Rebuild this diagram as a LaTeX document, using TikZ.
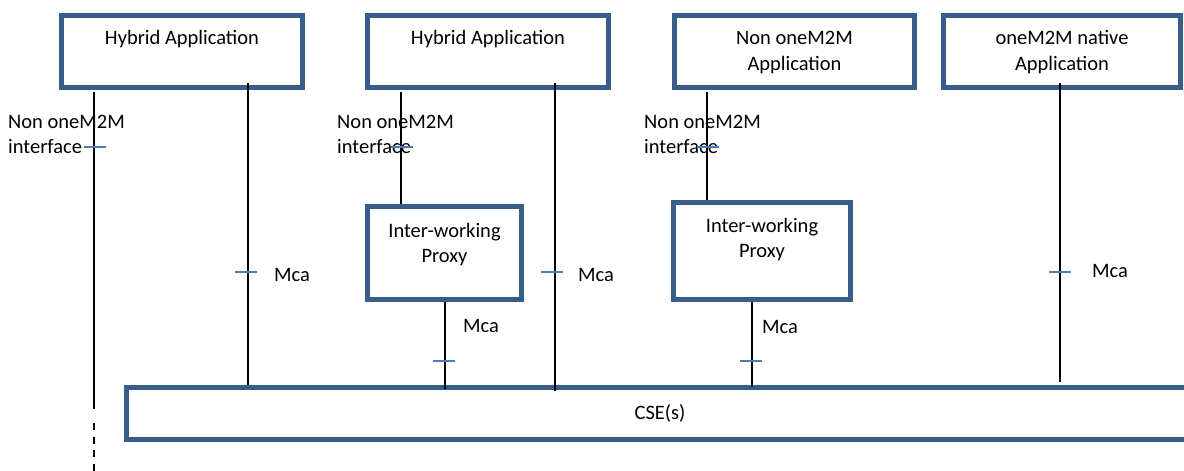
\documentclass[tikz,border=0pt]{standalone}
\usepackage{fontspec}
\setmainfont{Carlito}
\definecolor{boxblue}{HTML}{385D8A}
\definecolor{tickblue}{HTML}{4A7EBB}
\begin{document}
\begin{tikzpicture}[x=1pt,y=-1pt,
  box/.style={draw=boxblue, line width=4.5pt, fill=white, inner sep=0pt, rectangle},
  txt/.style={inner sep=0pt, font=\fontsize{20.5}{25}\selectfont},
  conn/.style={line width=2pt, black},
  tickmark/.style={line width=1.8pt, tickblue}]
\useasboundingbox (0,0) rectangle (1184,471);
% boxes
\node[box, minimum width=241pt, minimum height=72pt] (app1) at (182,51.5) {};
\node[box, minimum width=241pt, minimum height=72pt] (app2) at (488,51.5) {};
\node[box, minimum width=240pt, minimum height=72pt] (app3) at (794.5,51.5) {};
\node[box, minimum width=237pt, minimum height=72pt] (app4) at (1062,51.5) {};
\node[box, minimum width=154pt, minimum height=93pt] (prox1) at (444.5,253) {};
\node[box, minimum width=177pt, minimum height=97pt] (prox2) at (762,251) {};
\node[box, minimum width=1140pt, minimum height=52pt] (cse) at (696.5,413.5) {};
% box texts
\node[txt, anchor=base] (tapp1) at (182,44) {Hybrid Application};
\node[txt, anchor=base] (tapp2) at (488,44) {Hybrid Application};
\node[txt, anchor=base] (tapp3) at (794.5,45) {\begin{tabular}[t]{@{}c@{}}Non oneM2M\\Application\end{tabular}};
\node[txt, anchor=base] (tapp4) at (1062,45) {\begin{tabular}[t]{@{}c@{}}oneM2M native\\Application\end{tabular}};
\node[txt, anchor=base] (tprox1) at (444.5,237) {\begin{tabular}[t]{@{}c@{}}Inter-working\\Proxy\end{tabular}};
\node[txt, anchor=base] (tprox2) at (762,232) {\begin{tabular}[t]{@{}c@{}}Inter-working\\Proxy\end{tabular}};
\node[txt, anchor=base] (tcse) at (660,419) {CSE(s)};
% interface labels
\node[txt, anchor=base west] (nif1) at (8,128) {\begin{tabular}[t]{@{}l@{}}Non oneM2M\\interface\end{tabular}};
\node[txt, anchor=base west] (nif2) at (337,128) {\begin{tabular}[t]{@{}l@{}}Non oneM2M\\interface\end{tabular}};
\node[txt, anchor=base west] (nif3) at (644,128) {\begin{tabular}[t]{@{}l@{}}Non oneM2M\\interface\end{tabular}};
\node[txt, anchor=base west] (mca1) at (274,281) {Mca};
\node[txt, anchor=base west] (mca2) at (578,281) {Mca};
\node[txt, anchor=base west] (mca3) at (463,332) {Mca};
\node[txt, anchor=base west] (mca4) at (762,333) {Mca};
\node[txt, anchor=base west] (mca5) at (1092,277) {Mca};
% line x positions
\coordinate (x1) at (94,0);
\coordinate (x2) at (248,0);
\coordinate (x3) at (401,0);
\coordinate (x4) at (555,0);
\coordinate (x5) at (445,0);
\coordinate (x6) at (707,0);
\coordinate (x7) at (752,0);
\coordinate (x8) at (1060,0);
\coordinate (l1solid) at (94,409);
\coordinate (l1dash) at (94,423);
\coordinate (l1end) at (94,471);
% connectors
\draw[conn] ([yshift=-2pt]app1.south -| x1) -- (l1solid);
\draw[conn, dash pattern=on 7pt off 6.5pt] (l1dash) -- (l1end);
\draw[conn] ([yshift=7pt]app1.south -| x2) -- (cse.north -| x2);
\draw[conn] ([yshift=-2pt]app2.south -| x3) -- (prox1.north -| x3);
\draw[conn] ([yshift=7pt]app2.south -| x4) -- ([yshift=-6pt]cse.north -| x4);
\draw[conn] (prox1.south -| x5) -- ([yshift=-4pt]cse.north -| x5);
\draw[conn] ([yshift=-2pt]app3.south -| x6) -- (prox2.north -| x6);
\draw[conn] (prox2.south -| x7) -- ([yshift=-2pt]cse.north -| x7);
\draw[conn] ([yshift=7pt]app4.south -| x8) -- ([yshift=3pt]cse.north -| x8);
% ticks
\coordinate (k1) at (94.5,147);
\coordinate (k2) at (246,272);
\coordinate (k3) at (401.5,147);
\coordinate (k4) at (552,272);
\coordinate (k5) at (444,361);
\coordinate (k6) at (708,147);
\coordinate (k7) at (750.5,361);
\coordinate (k8) at (1060,272);
\foreach \k in {k1,k2,k3,k4,k5,k6,k7,k8}
  \draw[tickmark] ([xshift=-11pt]\k) -- ([xshift=11pt]\k);
\end{tikzpicture}
\end{document}
